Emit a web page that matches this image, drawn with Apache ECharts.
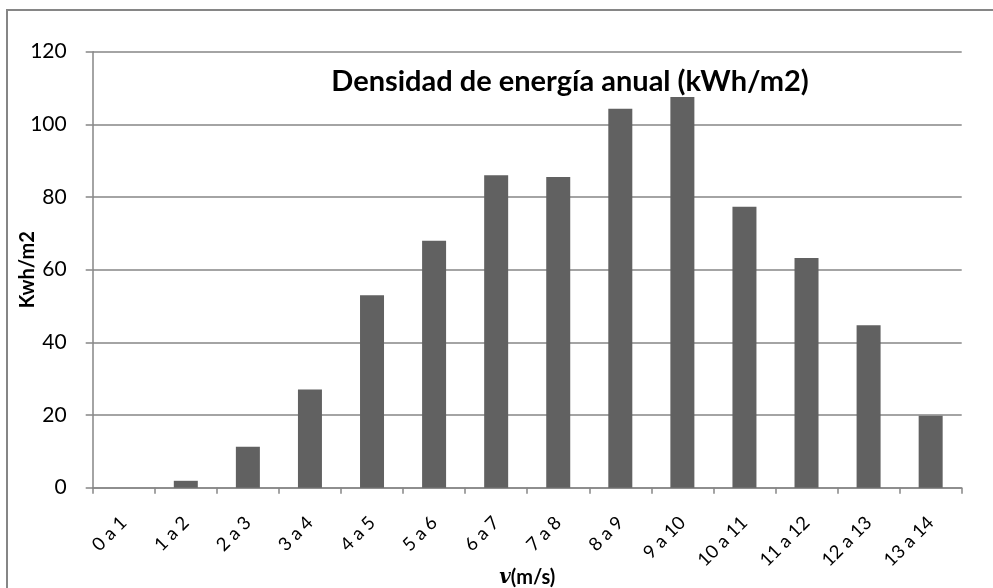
<!DOCTYPE html>
<html><head><meta charset="utf-8">
<script src="https://cdn.jsdelivr.net/npm/echarts@6/dist/echarts.min.js"></script>
<style>html,body{margin:0;padding:0;background:#fff}#c{width:993px;height:588px}</style>
</head><body><div id="c"></div>
<script>
const categories = ['0 a 1','1 a 2','2 a 3','3 a 4','4 a 5','5 a 6','6 a 7','7 a 8','8 a 9','9 a 10','10 a 11','11 a 12','12 a 13','13 a 14'];
const values = [0, 1.9, 11.3, 27.0, 53.0, 68.0, 86.0, 85.5, 104.3, 107.5, 77.3, 63.2, 44.7, 19.8];
const titleText = 'Densidad de energía anual (kWh/m2)';
const yName = 'Kwh/m2';

const chart = echarts.init(document.getElementById('c'), null, {renderer:'canvas'});
const F = 'Lato, Open Sans, sans-serif';
chart.setOption({
  animation: false,
  backgroundColor: '#fff',
  title: {text: titleText, left: 565, top: 62, textAlign: 'center',
    textStyle: {fontFamily: F, fontWeight: 'bold', fontSize: 29, color: '#000'}},
  graphic: [{type:'rect', shape:{x:7,y:10,width:1100,height:700}, style:{fill:'none', stroke:'#868686', lineWidth:2}, silent:true}],
  grid: {left: 92.7, right: 31.3, top: 51.7, bottom: 100.3, containLabel:false, outerBoundsMode:'none'},
  xAxis: {
    type:'category', data: categories,
    name: '{v|v}{b|(m/s)}', nameLocation:'middle', nameGap: 80, nameMoveOverlap:false,
    nameTextStyle: {rich:{v:{fontFamily:'DejaVu Serif, serif', fontStyle:'italic', fontWeight:'bold', fontSize:20, color:'#000'}, b:{fontFamily:F, fontWeight:'bold', fontSize:20, color:'#000'}}},
    axisLine:{lineStyle:{color:'#868686', width:1.5}},
    axisTick:{show:true, length:6, lineStyle:{color:'#868686', width:1.5}},
    axisLabel:{rotate:45, fontFamily:F, fontSize:18.5, color:'#000', margin:32, interval:0}
  },
  yAxis: {
    type:'value', min:0, max:120, interval:20,
    name: yName, nameLocation:'middle', nameGap: 55, nameMoveOverlap:false,
    nameTextStyle:{fontFamily:F, fontWeight:'bold', fontSize:20, color:'#000'},
    axisLine:{show:true, lineStyle:{color:'#868686', width:1.5}},
    axisTick:{show:true, length:7, lineStyle:{color:'#868686', width:1.5}},
    axisLabel:{fontFamily:F, fontSize:21, color:'#000', margin:26},
    splitLine:{lineStyle:{color:'#868686', width:1.5}}
  },
  series: [{type:'bar', data: values, barWidth: 24, itemStyle:{color:'#616161'}}]
});
</script></body></html>
